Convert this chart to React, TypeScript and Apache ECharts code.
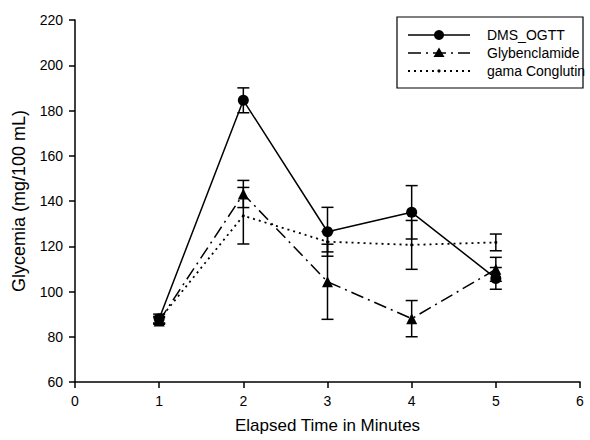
import React, { useEffect, useRef } from "react";
import * as echarts from "echarts";

const times = [1, 2, 3, 4, 5];
const seriesNames = ["DMS_OGTT", "Glybenclamide", "gama Conglutin"];
const dmsMean = [88, 184.5, 126.4, 135, 105.8];
const dmsErr = [2, 5.5, 10.8, 11.8, 4.8];
const glyMean = [87, 143.1, 104.3, 88, 109.8];
const glyErr = [1.5, 6, 16.6, 8, 5.3];
const gamMean = [87.5, 133.5, 122, 120.6, 121.7];
const gamErr = [1.5, 12.5, 4.5, 10.8, 3.7];

const FONT = "Liberation Sans, Arial, sans-serif";
const GLY_DASH = [13, 5, 2, 5];
const GAM_DASH = [2, 4];

function errSeries(name: string, mean: number[], err: number[]) {
  return {
    type: "custom",
    name,
    z: 1,
    silent: true,
    data: times.map((t, i) => [t, mean[i] - err[i], mean[i] + err[i]]),
    encode: { x: 0, y: [1, 2] },
    renderItem: (params: any, api: any) => {
      const x = api.value(0);
      const lo = api.coord([x, api.value(1)]);
      const hi = api.coord([x, api.value(2)]);
      const w = 6;
      const st = { stroke: "#000", lineWidth: 1.5 };
      return {
        type: "group",
        children: [
          { type: "line", shape: { x1: lo[0], y1: lo[1], x2: hi[0], y2: hi[1] }, style: st },
          { type: "line", shape: { x1: lo[0] - w, y1: lo[1], x2: lo[0] + w, y2: lo[1] }, style: st },
          { type: "line", shape: { x1: hi[0] - w, y1: hi[1], x2: hi[0] + w, y2: hi[1] }, style: st },
        ],
      };
    },
  };
}

function legendGraphic() {
  const bx = 397, by = 17, bw = 186, bh = 71;
  const rows = [35, 53, 71];
  const lx1 = 408, lx2 = 470, mx = 439, tx = 487;
  const children: any[] = [
    { type: "rect", shape: { x: bx, y: by, width: bw, height: bh }, style: { fill: "#fff", stroke: "#000", lineWidth: 1.2 } },
    { type: "line", shape: { x1: lx1, y1: rows[0], x2: lx2, y2: rows[0] }, style: { stroke: "#000", lineWidth: 1.5 } },
    { type: "circle", shape: { cx: mx, cy: rows[0], r: 5 }, style: { fill: "#000" } },
    { type: "line", shape: { x1: lx1, y1: rows[1], x2: lx2, y2: rows[1] }, style: { stroke: "#000", lineWidth: 1.5, lineDash: GLY_DASH } },
    { type: "polygon", shape: { points: [[mx, rows[1] - 5.5], [mx + 5.5, rows[1] + 4], [mx - 5.5, rows[1] + 4]] }, style: { fill: "#000" } },
    { type: "line", shape: { x1: lx1, y1: rows[2], x2: lx2, y2: rows[2] }, style: { stroke: "#000", lineWidth: 1.8, lineDash: GAM_DASH } },
    { type: "circle", shape: { cx: mx, cy: rows[2], r: 1.6 }, style: { fill: "#000" } },
  ];
  seriesNames.forEach((n, i) => {
    children.push({
      type: "text",
      x: tx,
      y: rows[i],
      style: { text: n, fill: "#000", font: `14px ${FONT}`, verticalAlign: "middle", align: "left" },
    });
  });
  return [{ type: "group", z: 100, children }];
}

export default function App() {
  const ref = useRef<HTMLDivElement>(null);
  useEffect(() => {
    if (!ref.current) return;
    const chart = echarts.init(ref.current, undefined, { renderer: "svg" });
    chart.setOption({
      animation: false,
      backgroundColor: "#fff",
      textStyle: { fontFamily: FONT },
      grid: { left: 75, right: 10, top: 20, bottom: 58, containLabel: false, outerBoundsMode: "none" },
      graphic: legendGraphic(),
      xAxis: {
        type: "value",
        min: 0,
        max: 6,
        interval: 1,
        name: "Elapsed Time in Minutes",
        nameLocation: "middle",
        nameGap: 35,
        nameTextStyle: { fontFamily: FONT, fontSize: 17, color: "#000" },
        splitLine: { show: false },
        axisLine: { lineStyle: { color: "#000", width: 1.5 } },
        axisTick: { length: 6, lineStyle: { color: "#000", width: 1.5 } },
        axisLabel: { fontFamily: FONT, fontSize: 14, color: "#000", margin: 12 },
      },
      yAxis: {
        type: "value",
        min: 60,
        max: 220,
        interval: 20,
        name: "Glycemia (mg/100 mL)",
        nameLocation: "middle",
        nameGap: 47,
        nameTextStyle: { fontFamily: FONT, fontSize: 18, color: "#000" },
        splitLine: { show: false },
        axisLine: { show: true, lineStyle: { color: "#000", width: 1.5 } },
        axisTick: { show: true, length: 6, lineStyle: { color: "#000", width: 1.5 } },
        axisLabel: { fontFamily: FONT, fontSize: 14, color: "#000", margin: 12 },
      },
      series: [
        errSeries("DMS_OGTT err", dmsMean, dmsErr),
        errSeries("Glybenclamide err", glyMean, glyErr),
        errSeries("gama Conglutin err", gamMean, gamErr),
        {
          type: "line",
          name: seriesNames[0],
          z: 3,
          data: times.map((t, i) => [t, dmsMean[i]]),
          symbol: "circle",
          symbolSize: 11,
          itemStyle: { color: "#000" },
          lineStyle: { color: "#000", width: 1.5, type: "solid" },
        },
        {
          type: "line",
          name: seriesNames[1],
          z: 3,
          data: times.map((t, i) => [t, glyMean[i]]),
          symbol: "triangle",
          symbolSize: 11,
          itemStyle: { color: "#000" },
          lineStyle: { color: "#000", width: 1.5, type: GLY_DASH },
        },
        {
          type: "line",
          name: seriesNames[2],
          z: 3,
          data: times.map((t, i) => [t, gamMean[i]]),
          symbol: "circle",
          symbolSize: 3,
          itemStyle: { color: "#000" },
          lineStyle: { color: "#000", width: 1.8, type: GAM_DASH },
        },
      ],
    });
    return () => chart.dispose();
  }, []);
  return <div ref={ref} style={{ position: "absolute", left: 0, top: 0, width: 590, height: 440 }} />;
}
